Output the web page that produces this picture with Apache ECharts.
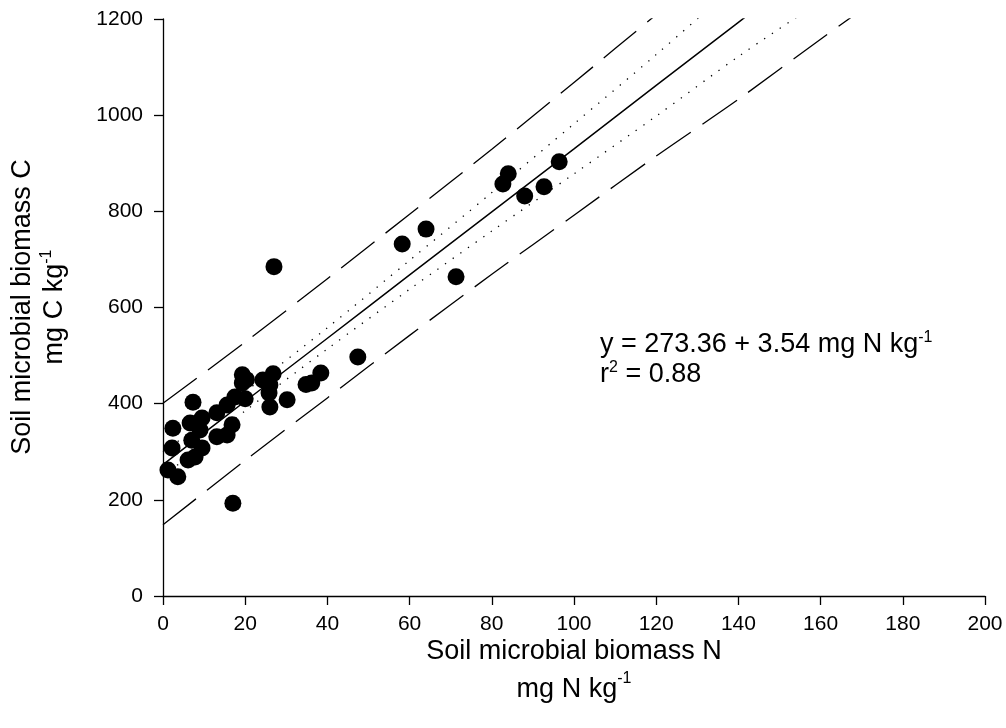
<!DOCTYPE html>
<html>
<head>
<meta charset="utf-8">
<title>Soil microbial biomass C vs N</title>
<script src="https://cdn.jsdelivr.net/npm/echarts@6/dist/echarts.min.js"></script>
<style>
  html, body { margin: 0; padding: 0; background: #ffffff; }
  #chart { width: 1006px; height: 728px; }
</style>
</head>
<body>
<div id="chart"></div>
<script>
// Soil microbial biomass N (mg N kg-1) for each sample
const biomassN = [
  1.2, 3.6, 2.2, 2.4, 6.1, 7.8, 9.5, 7.0, 9.0, 6.6,
  7.3, 9.5, 13.1, 13.1, 15.6, 16.8, 15.6, 17.5, 17.0, 19.3,
  19.3, 20.3, 20.0, 24.3, 26.0, 25.8, 26.0, 26.8, 27.0, 30.2,
  34.8, 36.2, 38.4, 47.4, 58.2, 64.0, 71.3, 82.7, 84.0, 88.0,
  92.7, 96.4
];
// Soil microbial biomass C (mg C kg-1) for the same samples
const biomassC = [
  262, 248, 308, 349, 283, 289, 308, 324, 345, 360,
  403, 370, 381, 331, 335, 356, 397, 414, 193, 460,
  443, 450, 410, 449, 439, 422, 393, 462, 685, 408,
  440, 443, 464, 497, 732, 763, 664, 857, 878, 832,
  851, 903
];

// Regression line and its bands, sampled along N
const bandN = [0, 20, 40, 60, 80, 100, 120, 140, 160, 180];
const fitC = [273.36, 405, 536, 668, 799, 930, 1062, 1193, 1325, 1456];
const upperConfC = [299, 425, 558, 698, 839, 982, 1126, 1275, 1420, 1565];
const lowerConfC = [248, 385, 514, 638, 759, 878, 998, 1122, 1237, 1352];
const upperPredC = [401, 528, 660, 794, 929, 1068, 1209, 1350, 1492, 1633];
const lowerPredC = [148, 282, 412, 542, 669, 792, 915, 1033, 1158, 1280];

const xTicks = { min: 0, max: 200, step: 20 };
const yTicks = { min: 0, max: 1200, step: 200 };

const FONT = '"Liberation Sans", Arial, sans-serif';

const pairs = (xs, ys) => xs.map((x, i) => [x, ys[i]]);

function bandSeries(name, ys, dash, width) {
  return {
    name: name,
    type: 'line',
    data: pairs(bandN, ys),
    showSymbol: false,
    symbol: 'none',
    clip: true,
    smooth: 0.3,
    silent: true,
    z: 2,
    lineStyle: { color: '#000', width: width, type: dash, cap: 'butt' }
  };
}

const chart = echarts.init(document.getElementById('chart'), null, { renderer: 'canvas' });

const axisCommon = {
  type: 'value',
  axisLine: { show: true, onZero: false, lineStyle: { color: '#000', width: 1.3 } },
  axisTick: { show: true, inside: false, length: 9, lineStyle: { color: '#000', width: 1.3 } },
  splitLine: { show: false },
  axisLabel: {
    color: '#000', fontSize: 21, fontFamily: FONT,
    formatter: (v) => String(v)
  }
};

chart.setOption({
  animation: false,
  backgroundColor: '#ffffff',
  grid: { left: 163, right: 21, top: 19, bottom: 132, containLabel: false },
  xAxis: Object.assign({}, axisCommon, {
    min: xTicks.min, max: xTicks.max, interval: xTicks.step,
    axisLabel: Object.assign({}, axisCommon.axisLabel, { margin: 18 })
  }),
  yAxis: Object.assign({}, axisCommon, {
    min: yTicks.min, max: yTicks.max, interval: yTicks.step,
    axisLabel: Object.assign({}, axisCommon.axisLabel, { margin: 20 })
  }),
  series: [
    bandSeries('upper prediction', upperPredC, [42, 14], 1.3),
    bandSeries('lower prediction', lowerPredC, [42, 14], 1.3),
    bandSeries('upper confidence', upperConfC, [1.3, 8], 1.3),
    bandSeries('lower confidence', lowerConfC, [1.3, 8], 1.3),
    bandSeries('fit', fitC, 'solid', 1.5),
    {
      name: 'samples',
      type: 'scatter',
      data: pairs(biomassN, biomassC),
      symbol: 'circle',
      symbolSize: 17,
      itemStyle: { color: '#000', opacity: 1 },
      z: 5
    }
  ],
  graphic: [
    {
      type: 'text',
      x: 39, y: 307,
      rotation: Math.PI / 2,
      style: {
        text: '{t|Soil microbial biomass C}\n{t|mg C kg}{s|-1}',
        align: 'center',
        verticalAlign: 'middle',
        rich: {
          t: { fontSize: 27, fontFamily: FONT, fill: '#000', lineHeight: 32 },
          s: { fontSize: 16, fontFamily: FONT, fill: '#000', lineHeight: 16, verticalAlign: 'top' }
        }
      }
    },
    {
      type: 'text',
      x: 574, y: 671,
      style: {
        text: '{t|Soil microbial biomass N}\n{t|mg N kg}{s|-1}',
        align: 'center',
        verticalAlign: 'middle',
        rich: {
          t: { fontSize: 27, fontFamily: FONT, fill: '#000', lineHeight: 38 },
          s: { fontSize: 16, fontFamily: FONT, fill: '#000', lineHeight: 16, verticalAlign: 'top' }
        }
      }
    },
    {
      type: 'text',
      x: 600, y: 360,
      style: {
        text: '{t|y = 273.36 + 3.54 mg N kg}{s|-1}\n{t|r}{s|2}{t| = 0.88}',
        align: 'left',
        verticalAlign: 'middle',
        rich: {
          t: { fontSize: 27, fontFamily: FONT, fill: '#000', lineHeight: 30 },
          s: { fontSize: 16, fontFamily: FONT, fill: '#000', lineHeight: 16, verticalAlign: 'top' }
        }
      }
    }
  ]
});
</script>
</body>
</html>
